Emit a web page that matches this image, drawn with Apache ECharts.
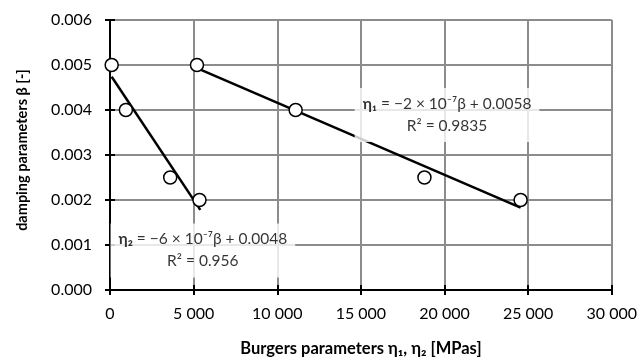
<!DOCTYPE html>
<html>
<head>
<meta charset="utf-8">
<script src="https://cdn.jsdelivr.net/npm/echarts@6/dist/echarts.min.js"></script>
<style>html,body{margin:0;padding:0;background:#fff}#c{width:640px;height:362px}</style>
</head>
<body>
<div id="c"></div>
<script>
// Data
const eta1X = [5200, 11100, 18800, 24550];
const eta1Y = [0.005, 0.004, 0.0025, 0.002];
const eta2X = [100, 950, 3600, 5350];
const eta2Y = [0.005, 0.004, 0.0025, 0.002];
// Trendline endpoints
const trend1X = [5200, 24550];
const trend1Y = [0.00493, 0.00183];
const trend2X = [100, 5400];
const trend2Y = [0.00474, 0.00178];
// Annotation anchor points (data units) and texts
const ann1 = [20150, 0.00389];
const ann2 = [5550, 0.00088];
const ann1Lines = ['η₁', ' = −2 × 10⁻⁷β + 0.0058', 'R² = 0.9835'];
const ann2Lines = ['η₂', ' = −6 × 10⁻⁷β + 0.0048', 'R² = 0.956'];
const xTicks = {min: 0, max: 30000, interval: 5000};
const yTicks = {min: 0, max: 0.006, interval: 0.001};

const FONT = 'Lato, "Noto Sans", sans-serif';
const zip = (xs, ys) => xs.map((x, i) => [x, ys[i]]);
const fmtX = v => String(Math.round(v)).replace(/\B(?=(\d{3})+(?!\d))/g, ' ');

function annSeries(pt, lines) {
  return {
    type: 'scatter', data: [pt], symbolSize: 0, z: 5, silent: true,
    label: {
      show: true, position: 'inside',
      backgroundColor: '#fff', padding: [5, 8, 5, 8],
      lineHeight: 22, align: 'center', verticalAlign: 'middle',
      formatter: '{b|' + lines[0] + '}{n|' + lines[1] + '}\n{n|' + lines[2] + '}',
      rich: {
        b: {fontFamily: FONT, fontSize: 15.5, fontWeight: 'bold', color: '#000', lineHeight: 22},
        n: {fontFamily: FONT, fontSize: 15.5, color: '#000', lineHeight: 22}
      }
    }
  };
}

const chart = echarts.init(document.getElementById('c'), null, {renderer: 'canvas'});
chart.setOption({
  animation: false,
  backgroundColor: '#fff',
  grid: {left: 110, right: 24, top: 20, bottom: 67, containLabel: false},
  xAxis: [{
    type: 'value', min: xTicks.min, max: xTicks.max, interval: xTicks.interval,
    name: 'Burgers parameters η₁, η₂ [MPas]', nameLocation: 'middle', nameGap: 50,
    nameTextStyle: {fontFamily: FONT, fontSize: 16.5, fontWeight: 'bold', color: '#000'},
    axisLine: {show: true, onZero: false, lineStyle: {color: '#000', width: 2}},
    axisTick: {show: true, length: 5, lineStyle: {color: '#000', width: 2}},
    axisLabel: {fontFamily: FONT, fontSize: 16, color: '#000', margin: 16, formatter: fmtX, showMaxLabel: true},
    splitLine: {show: true, lineStyle: {color: '#8c8c8c', width: 2}}
  }, {
    type: 'value', min: xTicks.min, max: xTicks.max, interval: xTicks.interval, position: 'bottom',
    axisLine: {show: false}, axisLabel: {show: false}, splitLine: {show: false},
    axisTick: {show: true, inside: true, length: 5, lineStyle: {color: '#000', width: 2}}
  }],
  yAxis: [{
    type: 'value', min: yTicks.min, max: yTicks.max, interval: yTicks.interval,
    name: 'damping parameters β [-]', nameLocation: 'middle', nameGap: 80, nameRotate: 90,
    nameTextStyle: {fontFamily: FONT, fontSize: 14.5, fontWeight: 'bold', color: '#000', padding: [0, 0, 0, 10]},
    axisLine: {show: true, onZero: false, lineStyle: {color: '#000', width: 2}},
    axisTick: {show: true, length: 5, lineStyle: {color: '#000', width: 2}},
    axisLabel: {fontFamily: FONT, fontSize: 16, color: '#000', margin: 18, formatter: v => v.toFixed(3)},
    splitLine: {show: true, lineStyle: {color: '#8c8c8c', width: 2}}
  }, {
    type: 'value', min: yTicks.min, max: yTicks.max, interval: yTicks.interval, position: 'left',
    axisLine: {show: false}, axisLabel: {show: false}, splitLine: {show: false},
    axisTick: {show: true, inside: true, length: 5, lineStyle: {color: '#000', width: 2}}
  }],
  series: [
    {type: 'line', data: zip(trend1X, trend1Y), symbol: 'none', z: 3,
     lineStyle: {color: '#000', width: 2.5}},
    {type: 'line', data: zip(trend2X, trend2Y), symbol: 'none', z: 3,
     lineStyle: {color: '#000', width: 2.5}},
    annSeries(ann1, ann1Lines),
    annSeries(ann2, ann2Lines),
    {type: 'scatter', data: zip(eta1X, eta1Y), symbol: 'circle', symbolSize: 13, z: 10,
     itemStyle: {color: '#fff', borderColor: '#000', borderWidth: 1.5, opacity: 1}},
    {type: 'scatter', data: zip(eta2X, eta2Y), symbol: 'circle', symbolSize: 13, z: 10,
     itemStyle: {color: '#fff', borderColor: '#000', borderWidth: 1.5, opacity: 1}}
  ]
});
</script>
</body>
</html>
